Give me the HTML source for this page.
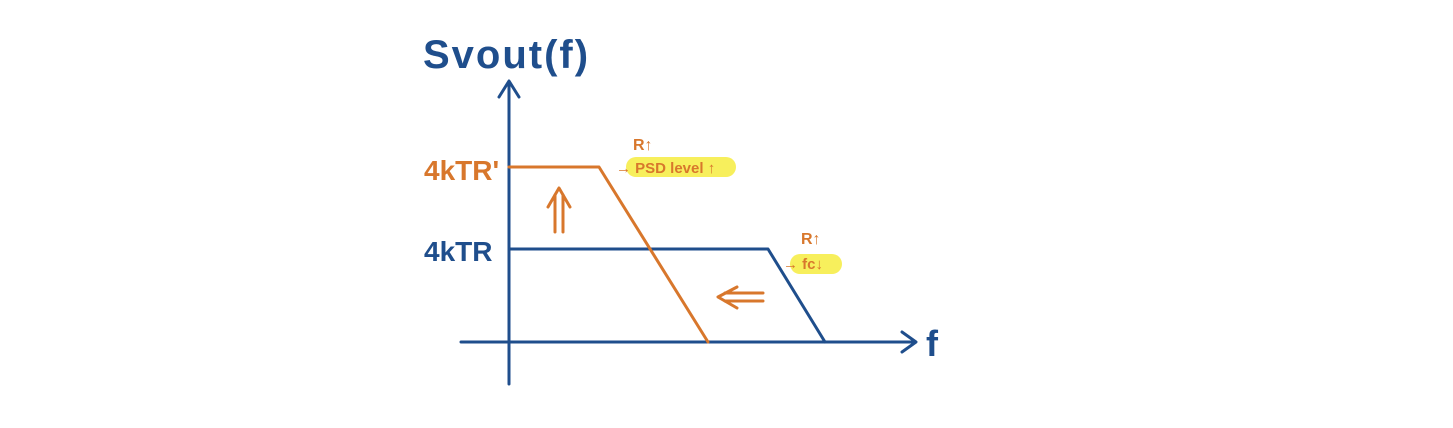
<!DOCTYPE html>
<html><head><meta charset="utf-8"><style>
html,body{margin:0;padding:0;background:#fff;}
svg{display:block;}
text{font-family:"Liberation Sans",sans-serif;}
</style></head><body>
<svg width="1453" height="428" viewBox="0 0 1453 428" xmlns="http://www.w3.org/2000/svg">
<g stroke="#1f4e8c" stroke-width="3" fill="none" stroke-linecap="round" stroke-linejoin="round">
<line x1="509" y1="384" x2="509" y2="82"/>
<polyline points="499,97 509,81 519,97"/>
<line x1="461" y1="342" x2="914" y2="342"/>
<polyline points="902,332 916,342 902,352"/>
<polyline points="509,249 768,249 825,342"/>
</g>
<g stroke="#d8772c" stroke-width="3" fill="none" stroke-linecap="round" stroke-linejoin="round">
<polyline points="509,167 599,167 708,342"/>
<line x1="555" y1="232" x2="555" y2="195"/>
<line x1="563" y1="232" x2="563" y2="195"/>
<polyline points="548,207 559,188 570,207"/>
<line x1="763" y1="293" x2="725" y2="293"/>
<line x1="763" y1="301" x2="725" y2="301"/>
<polyline points="737,287 718,297 737,308"/>
</g>
<text x="423" y="68" font-size="40" font-weight="bold" letter-spacing="2" fill="#1f4e8c">Svout(f)</text>
<text x="926" y="356" font-size="36" font-weight="bold" fill="#1f4e8c">f</text>
<text x="424" y="261" font-size="28" font-weight="bold" fill="#1f4e8c">4kTR</text>
<text x="424" y="180" font-size="28" font-weight="bold" fill="#d8772c">4kTR'</text>
<rect x="626" y="157" width="110" height="20" rx="10" fill="#f7ef5c"/>
<text x="633" y="150" font-size="16" font-weight="bold" fill="#d8772c">R↑</text>
<text x="616" y="173" font-size="15" font-weight="bold" fill="#d8772c">→ PSD level ↑</text>
<rect x="790" y="254" width="52" height="20" rx="10" fill="#f7ef5c"/>
<text x="801" y="244" font-size="16" font-weight="bold" fill="#d8772c">R↑</text>
<text x="783" y="269" font-size="15" font-weight="bold" fill="#d8772c">→ fc↓</text>
</svg>
</body></html>
